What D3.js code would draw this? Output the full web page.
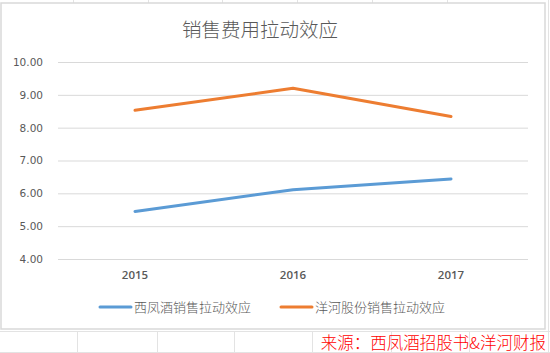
<!DOCTYPE html>
<html>
<head>
<meta charset="utf-8">
<script src="https://cdn.jsdelivr.net/npm/d3@7"></script>
<style>
  body { margin: 0; background: #fff; }
  svg { display: block; font-family: "Noto Sans CJK SC", "DejaVu Sans", sans-serif; }
</style>
</head>
<body>
<svg id="chart"></svg>
<script>
const years = ["2015", "2016", "2017"];
const xifengValues = [5.45, 6.11, 6.44];
const yangheValues = [8.53, 9.2, 8.34];
const yTicks = [4, 5, 6, 7, 8, 9, 10];
const seriesNames = ["西凤酒销售拉动效应", "洋河股份销售拉动效应"];
const seriesColors = ["#5b9bd5", "#ed7d31"];
const title = "销售费用拉动效应";
const sourceNote = "来源：西凤酒招股书&洋河财报";

const width = 550;
const height = 353;
const plot = { left: 56, right: 530, top: 62, bottom: 259 };

const svg = d3.select("#chart").attr("width", width).attr("height", height);

// spreadsheet cell lines behind the chart
const cells = svg.append("g").attr("stroke", "#e3e3e3").attr("stroke-width", 1);
[73, 148, 222, 297, 372, 447].forEach((x) => {
  cells.append("line").attr("x1", x + 0.5).attr("x2", x + 0.5).attr("y1", 0).attr("y2", 3);
});
[77, 157, 234, 312, 391, 469].forEach((x) => {
  cells.append("line").attr("x1", x + 0.5).attr("x2", x + 0.5).attr("y1", 331).attr("y2", 353);
});
cells.append("line").attr("x1", 0).attr("x2", width).attr("y1", 331.5).attr("y2", 331.5);
cells.append("line").attr("x1", 0).attr("x2", width).attr("y1", 352.5).attr("y2", 352.5);
cells.append("line").attr("x1", 548.5).attr("x2", 548.5).attr("y1", 0).attr("y2", 353);

// chart frame
svg.append("rect")
  .attr("x", 1).attr("y", 3)
  .attr("width", 544).attr("height", 326)
  .attr("fill", "#fff")
  .attr("stroke", "#d9d9d9")
  .attr("stroke-width", 1.5);

const x = d3.scaleBand().domain(years).range([plot.left, plot.right]);
const y = d3.scaleLinear().domain([4, 10]).range([plot.bottom, plot.top]);

// gridlines + y labels
const yAxis = svg.append("g")
  .attr("transform", `translate(${plot.left + 2},0)`)
  .call(d3.axisLeft(y).tickValues(yTicks).tickFormat(d3.format(".2f"))
    .tickSize(-(plot.right - plot.left - 4)).tickPadding(15));
yAxis.select(".domain").remove();
yAxis.selectAll(".tick line").attr("stroke", "#d9d9d9").attr("stroke-width", 1);
yAxis.selectAll(".tick text")
  .attr("fill", "#595959")
  .attr("font-family", "'DejaVu Sans', sans-serif")
  .attr("font-size", 10.5);

// x labels
const xAxis = svg.append("g")
  .attr("transform", `translate(0,${plot.bottom})`)
  .call(d3.axisBottom(x).tickSize(0).tickPadding(12));
xAxis.select(".domain").remove();
xAxis.selectAll(".tick text")
  .attr("fill", "#595959")
  .attr("font-family", "'Open Sans', sans-serif")
  .attr("font-weight", 600)
  .attr("font-size", 11.5);

// lines
const line = d3.line()
  .x((d, i) => x(years[i]) + x.bandwidth() / 2)
  .y((d) => y(d));

[xifengValues, yangheValues].forEach((vals, i) => {
  svg.append("path")
    .datum(vals)
    .attr("fill", "none")
    .attr("stroke", seriesColors[i])
    .attr("stroke-width", 3)
    .attr("stroke-linecap", "round")
    .attr("stroke-linejoin", "round")
    .attr("d", line);
});

// title
svg.append("text")
  .attr("x", 260).attr("y", 37)
  .attr("text-anchor", "middle")
  .attr("font-size", 19.5)
  .attr("font-weight", 300)
  .attr("fill", "#595959")
  .text(title);

// legend
const legendX = [100, 281];
seriesNames.forEach((name, i) => {
  const g = svg.append("g").attr("transform", `translate(${legendX[i]},307)`);
  g.append("line")
    .attr("x1", 0).attr("x2", 31)
    .attr("stroke", seriesColors[i])
    .attr("stroke-width", 3)
    .attr("stroke-linecap", "round");
  g.append("text")
    .attr("x", 34).attr("y", 4.5)
    .attr("font-size", 13)
    .attr("font-weight", 300)
    .attr("fill", "#595959")
    .text(name);
});

// source note
svg.append("text")
  .attr("x", 546).attr("y", 349)
  .attr("text-anchor", "end")
  .attr("font-size", 16.5)
  .attr("font-weight", 300)
  .attr("fill", "#ff0000")
  .text(sourceNote);
</script>
</body>
</html>
